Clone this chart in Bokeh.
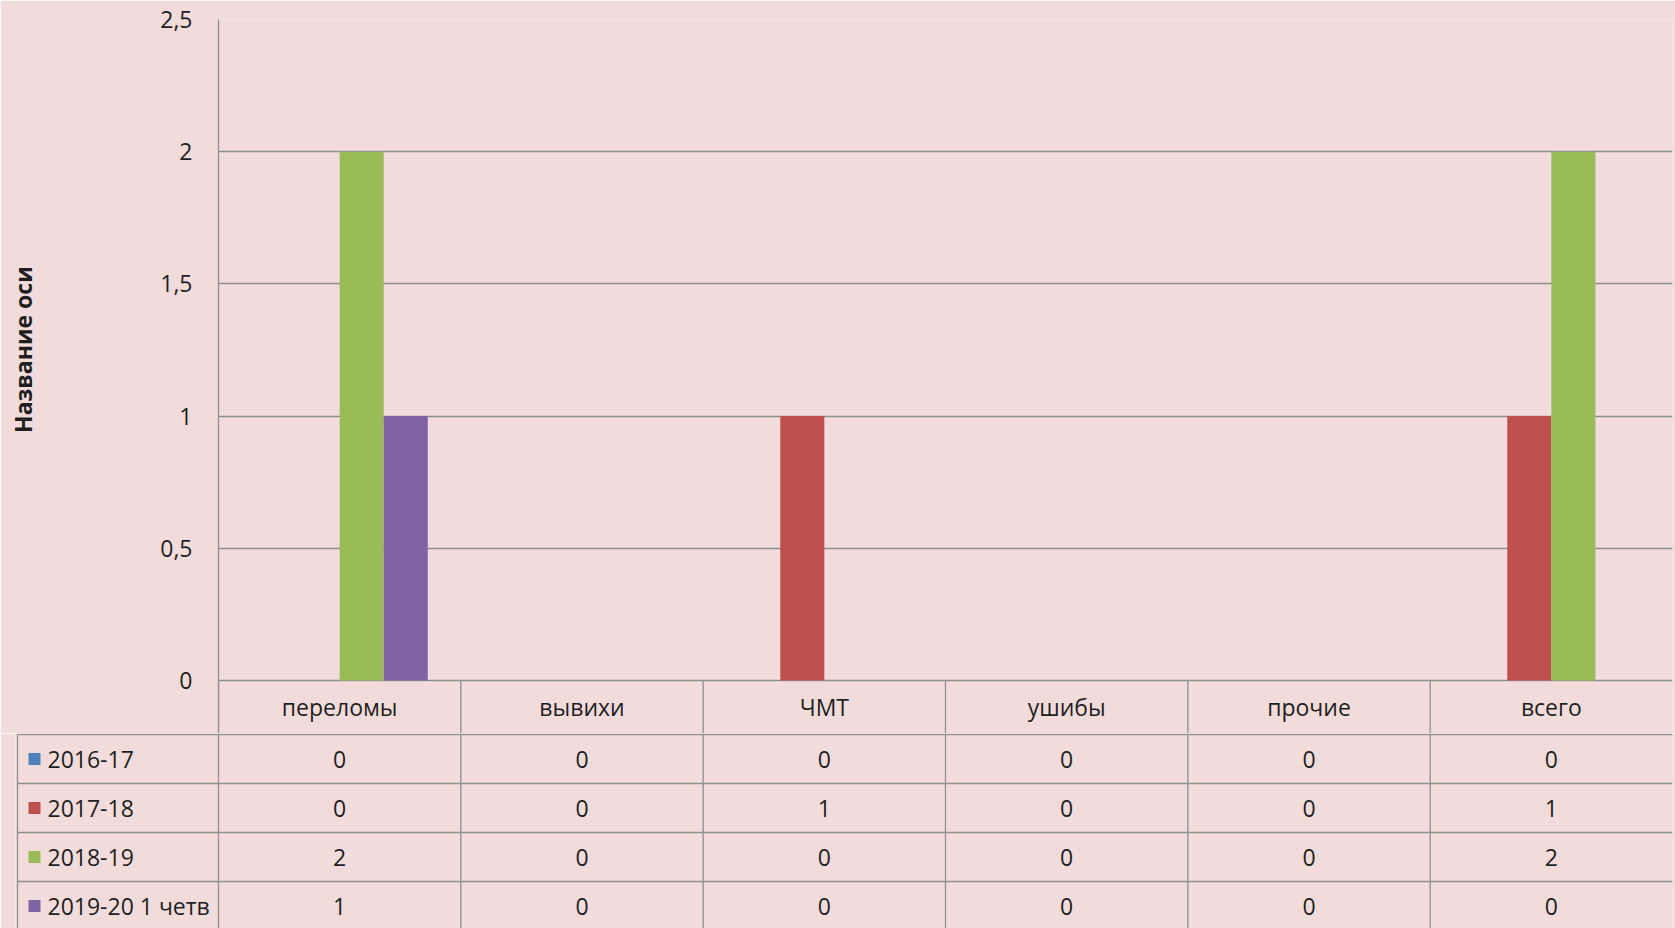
from bokeh.plotting import figure
from bokeh.layouts import column
from bokeh.models import ColumnDataSource, FactorRange, Range1d, FixedTicker
from bokeh.transform import dodge
from bokeh.core.properties import value
from bokeh.embed import file_html
from bokeh.resources import INLINE

# ---- data ----
categories = ["переломы", "вывихи", "ЧМТ", "ушибы", "прочие", "всего"]
series_names = ["2016-17", "2017-18", "2018-19", "2019-20 1 четв"]
s2016_17 = [0, 0, 0, 0, 0, 0]
s2017_18 = [0, 0, 1, 0, 0, 1]
s2018_19 = [2, 0, 0, 0, 0, 2]
s2019_20 = [1, 0, 0, 0, 0, 0]
y_ticks = [0, 0.5, 1, 1.5, 2, 2.5]
y_tick_labels = ["0", "0,5", "1", "1,5", "2", "2,5"]
axis_title = "Название оси"

series = [s2016_17, s2017_18, s2018_19, s2019_20]
colors = ["#4F81BD", "#C0504D", "#9BBB59", "#8064A2"]

BG = "#F2DCDB"
LINE = "#8E8E8E"
TXT = "#1F1F1F"
FONT = "Open Sans"
FS = "23px"

W = 1675
FRAME_L = 218
FRAME_R = 1672
px_unit = (FRAME_R - FRAME_L) / len(categories)

# ---- chart figure ----
p = figure(width=W, height=733, x_range=FactorRange(factors=categories, range_padding=0),
           y_range=Range1d(-0.2005, 2.5), output_backend="svg", toolbar_location=None,
           x_axis_location=None, min_border_left=FRAME_L, min_border_right=W - FRAME_R,
           min_border_top=19, min_border_bottom=0)
p.frame_align = False
p.background_fill_color = BG
p.border_fill_color = BG
p.outline_line_color = None
p.xgrid.visible = False
p.ygrid.ticker = FixedTicker(ticks=y_ticks)
p.ygrid.grid_line_color = LINE
p.ygrid.grid_line_width = 1.3
ax = p.yaxis[0]
ax.ticker = FixedTicker(ticks=y_ticks)
ax.major_label_overrides = {t: l for t, l in zip(y_ticks, y_tick_labels)}
ax.major_tick_in = 0
ax.major_tick_out = 0
ax.minor_tick_in = 0
ax.minor_tick_out = 0
ax.major_label_standoff = 26
ax.major_label_text_font = FONT
ax.major_label_text_font_size = FS
ax.major_label_text_color = TXT
ax.axis_line_color = LINE
ax.axis_line_width = 1.3
# padding with non-breaking spaces lifts the title to the centre of the value area
ax.axis_label = "\u00a0" * 9 + axis_title
ax.axis_label_text_font = FONT
ax.axis_label_text_font_style = "bold"
ax.axis_label_text_font_size = "23px"
ax.axis_label_text_color = TXT
ax.axis_label_standoff = 118

data = dict(cat=categories)
for i, s in enumerate(series):
    data[f"s{i}"] = s
src = ColumnDataSource(data)

bw = 1 / 5.5
offsets = [-1.5 * bw, -0.5 * bw, 0.5 * bw, 1.5 * bw]
for i in range(4):
    p.vbar(x=dodge("cat", offsets[i], range=p.x_range), top=f"s{i}", bottom=0, width=bw,
           source=src, fill_color=colors[i], line_color=None)

# header row (category names) under the zero line
hdr_y = -0.102
p.text(x="cat", y=hdr_y, text="cat", source=src, text_align="center",
       text_baseline="middle", text_font=value(FONT), text_font_size=FS, text_color=TXT)
p.segment(x0=dodge("cat", -0.5, range=p.x_range), y0=-0.2005,
          x1=dodge("cat", -0.5, range=p.x_range), y1=0, source=src,
          line_color=LINE, line_width=1.3)

# ---- data table figure ----
TBL_L = 15
left_edge = -(FRAME_L - 17) / px_unit
row_h = 49
bottom = (928 - 734) / row_h
t = figure(width=W, height=195, x_range=Range1d(-(FRAME_L - TBL_L) / px_unit, 6),
           y_range=Range1d(bottom, -1 / row_h),
           output_backend="svg", toolbar_location=None,
           x_axis_location=None, y_axis_location=None,
           min_border_left=TBL_L, min_border_right=W - FRAME_R,
           min_border_top=0, min_border_bottom=0)
t.frame_align = False
t.background_fill_color = BG
t.border_fill_color = BG
t.outline_line_color = None
t.grid.visible = False

nrows = len(series)
t.segment(x0=[left_edge] * nrows, y0=list(range(nrows)), x1=[6] * nrows,
          y1=list(range(nrows)), line_color=LINE, line_width=1.3)
vx = [left_edge] + list(range(len(categories)))
t.segment(x0=vx, y0=[0] * len(vx), x1=vx, y1=[bottom] * len(vx),
          line_color=LINE, line_width=1.3)

tx, ty, tt = [], [], []
for i, s in enumerate(series):
    for j, v in enumerate(s):
        tx.append(j + 0.5)
        ty.append(i + 0.5)
        tt.append(str(v))
t.text(x=tx, y=ty, text=tt, text_align="center", text_baseline="middle",
       text_font=value(FONT), text_font_size=FS, text_color=TXT)

rows_y = [i + 0.5 for i in range(nrows)]
t.scatter(x=[left_edge + 17 / px_unit] * nrows, y=rows_y, marker="square", size=12,
          fill_color=colors, line_color=None)
t.text(x=[left_edge] * nrows, y=rows_y, text=series_names, x_offset=30,
       text_align="left", text_baseline="middle", text_font=value(FONT),
       text_font_size=FS, text_color=TXT)

layout = column(p, t, spacing=0)
open("out.html", "w").write(file_html(layout, INLINE))
